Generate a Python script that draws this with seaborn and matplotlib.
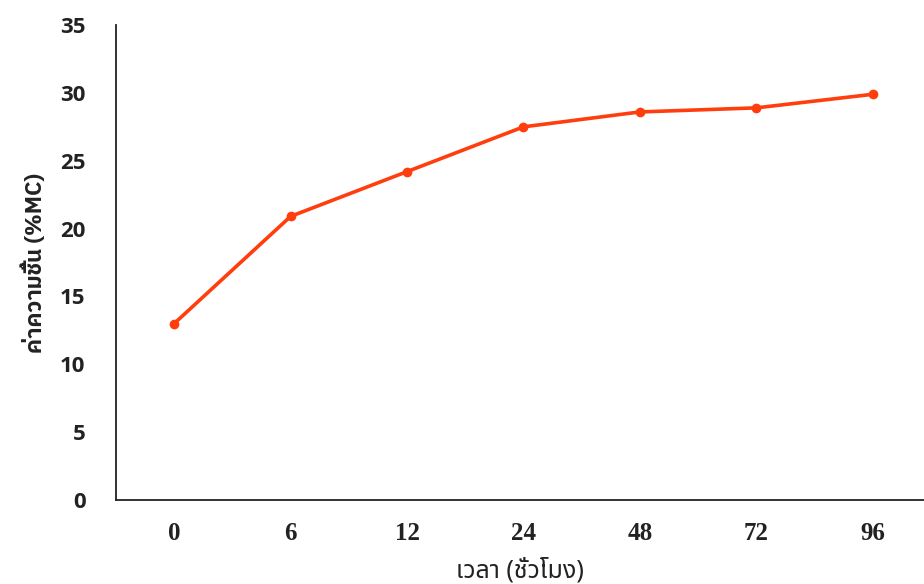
import pandas as pd
import matplotlib.pyplot as plt
import seaborn as sns

hours = ["0", "6", "12", "24", "48", "72", "96"]
moisture = [13.0, 20.9, 24.2, 27.5, 28.6, 28.9, 29.9]
y_ticks = [0, 5, 10, 15, 20, 25, 30, 35]

sns.set_style("white")
plt.rcParams['font.family'] = ['Open Sans', 'Noto Sans Thai', 'DejaVu Sans']

df = pd.DataFrame({"hour": hours, "mc": moisture})

fig = plt.figure(figsize=(9.24, 5.84), dpi=100)
ax = fig.add_axes([0.1255, 0.144, 0.8745, 0.813])

sns.lineplot(data=df, x="hour", y="mc", sort=False, ax=ax,
             color="#ff3d0d", linewidth=2.6, marker="o", markersize=7,
             markeredgewidth=0)

ax.set_ylim(0, 35)
ax.set_xlim(-0.5, 6.44)

for s in ["top", "right"]:
    ax.spines[s].set_visible(False)
for s in ["left", "bottom"]:
    ax.spines[s].set_color("#222222")
    ax.spines[s].set_linewidth(1.3)
ax.tick_params(length=0, labelcolor="#222222")
ax.tick_params(axis="y", pad=22, labelsize=16)
ax.tick_params(axis="x", pad=16, labelsize=18)

ax.set_yticks(y_ticks, labels=[str(v) for v in y_ticks], fontweight="bold")
ax.set_xticks(range(len(hours)), labels=hours, fontweight="bold",
              family=["Liberation Serif", "DejaVu Serif"])

ax.set_ylabel("ค่าความชื้น (%MC)", fontsize=16, fontweight="bold", color="#222222",
              labelpad=10, family=["IBM Plex Sans Thai", "Noto Sans Thai", "DejaVu Sans"])
ax.set_xlabel("เวลา (ชั่วโมง)", fontsize=18, color="#222222", labelpad=9,
              family=["Noto Sans Thai", "DejaVu Sans"])

fig.savefig("out.png", dpi=100)
